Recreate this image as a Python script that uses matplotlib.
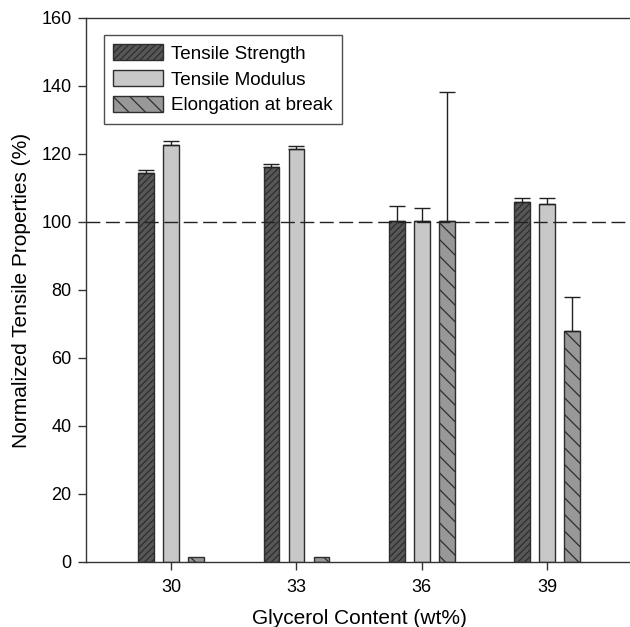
import numpy as np
import matplotlib
matplotlib.use("Agg")
import matplotlib.pyplot as plt

plt.rcParams["font.family"] = ["Liberation Sans", "DejaVu Sans"]
plt.rcParams["hatch.linewidth"] = 0.9

# glycerol content groups
categories = ["30", "33", "36", "39"]

# normalized values (%) and upper error bars
strength = [114.4, 116.3, 100.2, 105.9]
strength_err = [1.0, 0.7, 4.5, 1.1]
modulus = [122.5, 121.4, 100.2, 105.2]
modulus_err = [1.4, 1.0, 4.0, 1.8]
elongation = [1.4, 1.5, 100.2, 68.0]
elongation_err = [0.0, 0.0, 37.9, 9.9]

series_names = ["Tensile Strength", "Tensile Modulus", "Elongation at break"]


def main():
    fig = plt.figure(figsize=(6.3, 6.27), dpi=100)
    ax = fig.add_axes([0.1365, 0.1037, 0.867, 0.8676])

    x = np.arange(len(categories))
    width = 0.125
    step = 0.2
    edge = "#2e2e2e"

    styles = [
        dict(color="#575757", hatch="/////"),
        dict(color="#c8c8c8", hatch=None),
        dict(color="#989898", hatch="\\\\"),
    ]
    values = [strength, modulus, elongation]
    errors = [strength_err, modulus_err, elongation_err]

    for k in range(3):
        pos = x + (k - 1) * step
        ax.bar(pos, values[k], width, color=styles[k]["color"],
               hatch=styles[k]["hatch"], edgecolor=edge, linewidth=1.0,
               label=series_names[k], zorder=2)
        err = np.array(errors[k])
        keep = err > 0
        ax.errorbar(pos[keep], np.array(values[k])[keep],
                    yerr=[np.zeros(keep.sum()), err[keep]],
                    fmt="none", ecolor="#222222", elinewidth=1.0,
                    capsize=5.8, capthick=1.0, zorder=3)

    ax.axhline(100, color="#222222", linewidth=1.0, dashes=(10, 4), zorder=4)

    ax.set_xlim(-0.68, 3.68)
    ax.set_ylim(0, 160)
    ax.set_yticks(np.arange(0, 161, 20))
    ax.set_xticks(x)
    ax.set_xticklabels(categories)
    ax.tick_params(labelsize=13, length=5.5, width=1.0, color="#333333",
                   pad=5)
    ax.tick_params(axis="x", pad=7)

    for side in ["left", "bottom", "top", "right"]:
        ax.spines[side].set_color("#333333")
        ax.spines[side].set_linewidth(1.0)

    ax.set_xlabel("Glycerol Content (wt%)", fontsize=15, labelpad=9)
    ax.set_ylabel("Normalized Tensile Properties (%)", fontsize=15,
                  labelpad=7)

    leg = ax.legend(loc="upper left", bbox_to_anchor=(0.033, 0.969),
                    borderaxespad=0, fontsize=13.6, frameon=True,
                    fancybox=False, edgecolor="#222222",
                    handlelength=2.6, handleheight=0.9,
                    labelspacing=0.4, handletextpad=0.45,
                    borderpad=0.5)
    leg.get_frame().set_linewidth(1.0)

    fig.savefig("out.png", dpi=100)


if __name__ == "__main__":
    main()
